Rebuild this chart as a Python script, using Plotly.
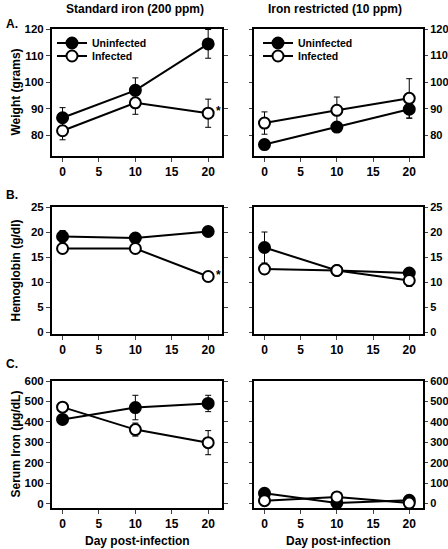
import plotly.graph_objects as go

W, H = 448, 549

# ---------------- data ----------------
days = [0, 10, 20]

weight_std_uninf = [86.6, 96.9, 114.4]
weight_std_uninf_err = [3.8, 4.7, 5.4]
weight_std_inf = [81.7, 92.2, 88.3]
weight_std_inf_err = [3.4, 4.3, 5.3]
weight_res_uninf = [76.5, 83.1, 89.8]
weight_res_uninf_err = [1.5, 1.5, 3.4]
weight_res_inf = [84.6, 89.4, 93.9]
weight_res_inf_err = [4.2, 5.0, 7.4]

hgb_std_uninf = [19.1, 18.8, 20.1]
hgb_std_uninf_err = [1.2, 0.6, 0.5]
hgb_std_inf = [16.7, 16.7, 11.1]
hgb_std_inf_err = [0.5, 0.5, 0.6]
hgb_res_uninf = [16.9, 12.3, 11.8]
hgb_res_uninf_err = [3.1, 0.5, 0.5]
hgb_res_inf = [12.6, 12.3, 10.3]
hgb_res_inf_err = [0.5, 0.5, 1.2]

iron_std_uninf = [412, 470, 490]
iron_std_uninf_err = [20, 60, 40]
iron_std_inf = [472, 362, 298]
iron_std_inf_err = [15, 32, 59]
iron_res_uninf = [50, 3, 16]
iron_res_uninf_err = [10, 5, 8]
iron_res_inf = [14, 32, 2]
iron_res_inf_err = [5, 8, 5]

col_titles = ["Standard iron (200 ppm)", "Iron restricted (10 ppm)"]
row_letters = ["A.", "B.", "C."]
y_titles = ["Weight (grams)", "Hemoglobin (g/dl)", "Serum Iron (\u00b5g/dL)"]
x_title = "Day post-infection"
series_names = ["Uninfected", "Infected"]
x_ticks = [0, 5, 10, 15, 20]
y_ranges = [[72.2, 120], [-0.4, 25], [-22, 600]]
y_dticks = [10, 5, 100]
y_tick0 = [80, 0, 0]
star_points = [(0, 88.3), (2, 11.1)]  # (panel index, infected value at day 20)

FONT = "Liberation Sans, Arial, Helvetica, sans-serif"


def px_x(x):
    return x / W


def px_y(y):
    return 1 - y / H


x_domains = [[px_x(52), px_x(222)], [px_x(254), px_x(423)]]
y_domains = [[px_y(156), px_y(29)], [px_y(334), px_y(207)], [px_y(508), px_y(381)]]

panels = [
    (weight_std_uninf, weight_std_uninf_err, weight_std_inf, weight_std_inf_err),
    (weight_res_uninf, weight_res_uninf_err, weight_res_inf, weight_res_inf_err),
    (hgb_std_uninf, hgb_std_uninf_err, hgb_std_inf, hgb_std_inf_err),
    (hgb_res_uninf, hgb_res_uninf_err, hgb_res_inf, hgb_res_inf_err),
    (iron_std_uninf, iron_std_uninf_err, iron_std_inf, iron_std_inf_err),
    (iron_res_uninf, iron_res_uninf_err, iron_res_inf, iron_res_inf_err),
]

fig = go.Figure()

legend_names = {0: ("legend", "legend2"), 1: ("legend3", "legend4")}


def axsuffix(i):
    return "" if i == 0 else str(i + 1)


for i, (u, ue, inf, infe) in enumerate(panels):
    row, col = divmod(i, 2)
    ax = axsuffix(i)
    for k, (vals, errs, fill) in enumerate([(u, ue, "black"), (inf, infe, "white")]):
        show = row == 0
        tr = dict(
            x=days, y=vals, mode="lines+markers", name=series_names[k],
            xaxis="x" + ax, yaxis="y" + ax,
            line=dict(color="black", width=2),
            marker=dict(size=11, color=fill, line=dict(color="black", width=2)),
            error_y=dict(type="data", array=errs, visible=True, color="black",
                         thickness=1, width=3),
            showlegend=show, cliponaxis=False,
        )
        if show:
            tr["legend"] = legend_names[col][k]
        fig.add_trace(go.Scatter(**tr))

    fig.layout["xaxis" + ax] = dict(
        domain=x_domains[col], range=[-1.45, 21.9], anchor="y" + ax,
        tickvals=x_ticks, ticks="outside", ticklen=4, tickwidth=1,
        showline=True, linewidth=2, linecolor="black", mirror=True,
        showgrid=False, zeroline=False, automargin=False,
        tickfont=dict(family=FONT, size=12, color="black", weight="bold"),
    )
    fig.layout["yaxis" + ax] = dict(
        domain=y_domains[row], range=y_ranges[row], anchor="x" + ax,
        side="left" if col == 0 else "right",
        tick0=y_tick0[row], dtick=y_dticks[row],
        ticks="outside", ticklen=4 if col == 0 else 3, tickwidth=1,
        showline=True, linewidth=2, linecolor="black", mirror="ticks",
        showgrid=False, zeroline=False, automargin=False,
        tickfont=dict(family=FONT, size=11.5 if col == 0 else 11, color="black", weight="bold"),
    )

ann = []
bold = dict(family=FONT, color="black", weight="bold")
# column titles
for c, (t, xc) in enumerate(zip(col_titles, [135, 335])):
    ann.append(dict(text=t, x=px_x(xc), y=px_y(9), xref="paper", yref="paper",
                    showarrow=False, xanchor="center", yanchor="middle",
                    font=dict(size=12, **bold)))
# row letters
for r, (t, yc) in enumerate(zip(row_letters, [24, 195, 364])):
    ann.append(dict(text=t, x=px_x(4), y=px_y(yc), xref="paper", yref="paper",
                    showarrow=False, xanchor="left", yanchor="middle",
                    font=dict(size=12, **bold)))
# y titles
for r, t in enumerate(y_titles):
    yc = (y_domains[r][0] + y_domains[r][1]) / 2
    ann.append(dict(text=t, x=px_x(15), y=yc, xref="paper", yref="paper",
                    showarrow=False, textangle=-90, xanchor="center", yanchor="middle",
                    font=dict(size=12, **bold)))
# x titles
for c, xc in enumerate([137, 338]):
    ann.append(dict(text=x_title, x=px_x(xc), y=px_y(541), xref="paper", yref="paper",
                    showarrow=False, xanchor="center", yanchor="middle",
                    font=dict(size=12, **bold)))
# asterisks
for (p, v) in star_points:
    ax = axsuffix(p)
    ann.append(dict(text="*", x=days[-1], y=v, xref="x" + ax, yref="y" + ax,
                    showarrow=False, xanchor="left", yanchor="middle",
                    xshift=6, yshift=2, font=dict(size=12, **bold)))

legend_common = dict(bgcolor="rgba(0,0,0,0)", borderwidth=0,
                     font=dict(family=FONT, size=10.5, color="black", weight="bold"),
                     xanchor="left", yanchor="middle", xref="paper", yref="paper")

fig.update_layout(
    width=W, height=H,
    margin=dict(l=0, r=0, t=0, b=0, autoexpand=False),
    paper_bgcolor="white", plot_bgcolor="white",
    font=dict(family=FONT, size=12, color="black"),
    annotations=ann,
    legend=dict(x=px_x(52), y=px_y(43), **legend_common),
    legend2=dict(x=px_x(52), y=px_y(56), **legend_common),
    legend3=dict(x=px_x(258), y=px_y(43), **legend_common),
    legend4=dict(x=px_x(258), y=px_y(56), **legend_common),
)

fig.write_html("out.html", config={"displayModeBar": False},
               post_script="document.body.style.margin='0';document.body.style.overflow='hidden';")
